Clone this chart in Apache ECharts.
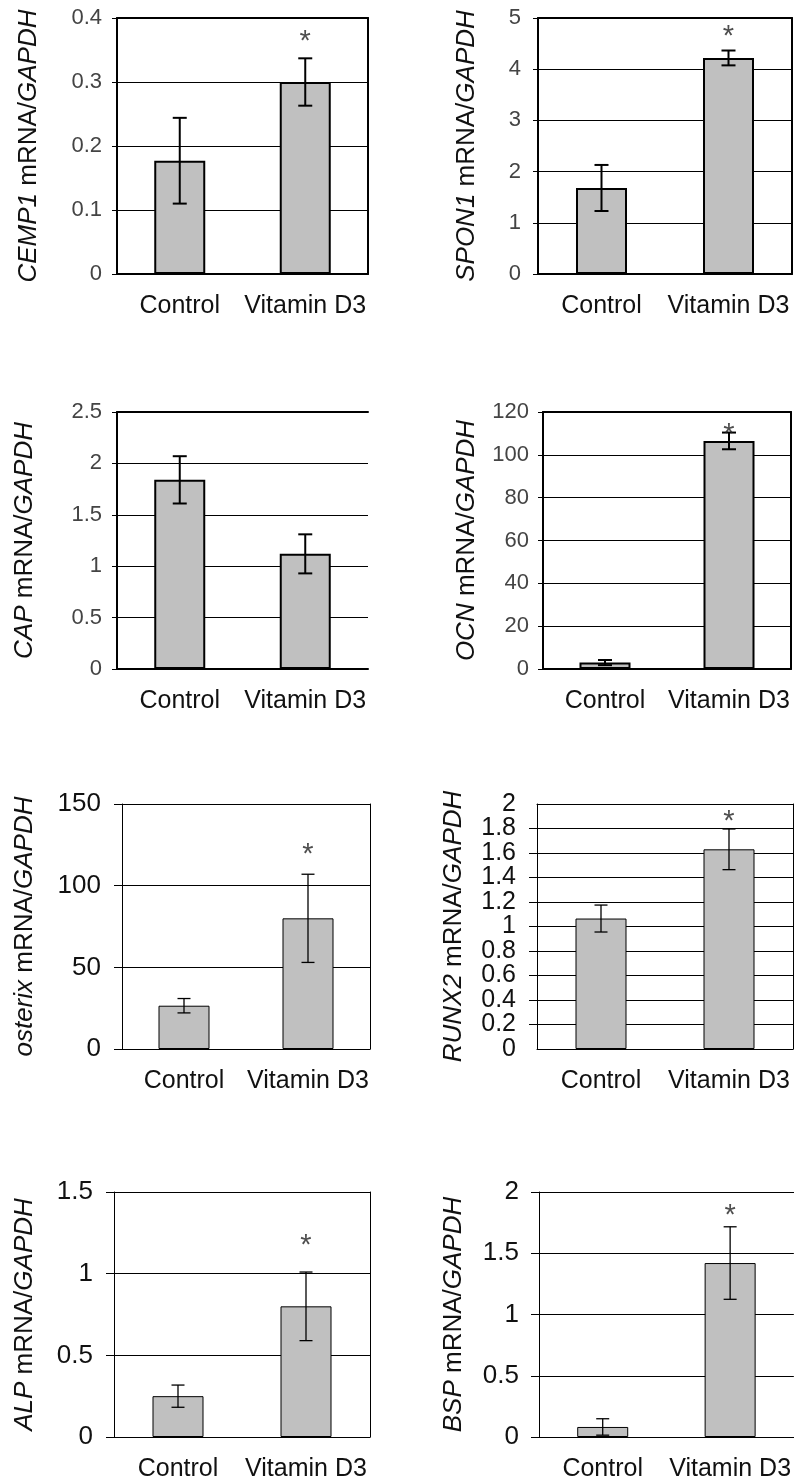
<!DOCTYPE html>
<html>
<head>
<meta charset="utf-8">
<script src="https://cdn.jsdelivr.net/npm/echarts@6/dist/echarts.min.js"></script>
<style>
  html, body { margin: 0; padding: 0; background: #fff; }
  #chart { width: 794px; height: 1482px; }
</style>
</head>
<body>
<div id="chart"></div>
<script>
// values
const categories = ['Control', 'Vitamin D3'];
const genes = ['CEMP1', 'SPON1', 'CAP', 'OCN', 'osterix', 'RUNX2', 'ALP', 'BSP'];
const controlMean = [0.177, 1.68, 1.84, 3.0, 26.5, 1.065, 0.25, 0.082];
const controlErr = [0.067, 0.45, 0.23, 1.2, 4.4, 0.11, 0.068, 0.067];
const vitD3Mean = [0.30, 4.22, 1.12, 106.5, 80, 1.63, 0.80, 1.42];
const vitD3Err = [0.037, 0.145, 0.19, 3.9, 27, 0.166, 0.21, 0.296];
const yMax = [0.4, 5, 2.5, 120, 150, 2, 1.5, 2];
const yStep = [0.1, 1, 0.5, 20, 50, 0.2, 0.5, 0.5];
// height of the significance star (null = none)
const starY = [0.373, 4.76, null, 112.5, 123, 1.91, 1.215, 1.865];

// panel boxes and styling
const layout = [
  { left: 117, top: 18, width: 251, height: 256, lw: 2, rightLine: true, nameGap: 75, tick: 22, tickColor: '#444', tickLen: 5, tickGap: 15 },
  { left: 538, top: 18, width: 254, height: 256, lw: 2, rightLine: true, nameGap: 58, tick: 22, tickColor: '#444', tickLen: 5, tickGap: 17 },
  { left: 117, top: 412, width: 251, height: 257, lw: 2, rightLine: false, nameGap: 79, tick: 22, tickColor: '#444', tickLen: 5, tickGap: 15 },
  { left: 543, top: 412, width: 248, height: 257, lw: 2, rightLine: true, nameGap: 63, tick: 22, tickColor: '#444', tickLen: 5, tickGap: 14 },
  { left: 122, top: 804, width: 248, height: 245, lw: 1, rightLine: true, nameGap: 84, tick: 26, tickColor: '#111', tickLen: 8, tickGap: 21 },
  { left: 537, top: 804, width: 256, height: 245, lw: 1, rightLine: true, nameGap: 70, tick: 25, tickColor: '#111', tickLen: 8, tickGap: 21, dense: true },
  { left: 114, top: 1192, width: 256, height: 245, lw: 1, rightLine: true, nameGap: 76, tick: 26, tickColor: '#111', tickLen: 8, tickGap: 21 },
  { left: 539, top: 1192, width: 255, height: 245, lw: 1, rightLine: false, nameGap: 72, tick: 26, tickColor: '#111', tickLen: 8, tickGap: 20 }
];

const chart = echarts.init(document.getElementById('chart'));

const grid = [], xAxis = [], yAxis = [], series = [];

genes.forEach((gene, i) => {
  const L = layout[i];
  grid.push({ left: L.left, top: L.top, width: L.width, height: L.height });

  const xi = xAxis.length;
  xAxis.push({
    type: 'category', gridIndex: i, data: categories,
    axisLine: { onZero: false, lineStyle: { color: '#000', width: L.lw } },
    axisTick: { show: false },
    axisLabel: { fontSize: 25, color: '#111', margin: 20, interval: 0 }
  });
  // top frame line
  xAxis.push({
    type: 'category', gridIndex: i, data: categories, position: 'top',
    axisLine: { onZero: false, lineStyle: { color: '#000', width: L.lw } },
    axisTick: { show: false }, axisLabel: { show: false }
  });

  const labelStyle = { fontSize: L.tick, color: L.tickColor, margin: L.tickGap };
  const yi = yAxis.length;
  yAxis.push({
    type: 'value', gridIndex: i, min: 0, max: yMax[i], interval: yStep[i],
    name: '{i|' + gene + '} mRNA/{i|GAPDH}',
    nameLocation: 'middle', nameRotate: 90, nameGap: L.nameGap,
    nameTextStyle: {
      fontSize: 26, color: '#111',
      rich: { i: { fontSize: 26, fontStyle: 'italic', color: '#111' } }
    },
    axisLine: { show: true, onZero: false, lineStyle: { color: '#000', width: L.lw } },
    axisTick: { show: true, length: L.tickLen, lineStyle: { color: '#000', width: 1 } },
    axisLabel: Object.assign({}, labelStyle, L.dense
      ? { showMinLabel: false, showMaxLabel: false }
      : { showMinLabel: true, showMaxLabel: true }),
    splitLine: { show: true, lineStyle: { color: '#000', width: 1 } }
  });
  if (L.dense) {
    // tightly packed labels: end labels drawn by an overlaid axis so none get dropped
    yAxis.push({
      type: 'value', gridIndex: i, min: 0, max: yMax[i], interval: yMax[i], position: 'left',
      axisLine: { show: false }, axisTick: { show: false }, splitLine: { show: false },
      axisLabel: Object.assign({}, labelStyle, { showMinLabel: true, showMaxLabel: true })
    });
  }
  if (L.rightLine) {
    yAxis.push({
      type: 'value', gridIndex: i, min: 0, max: yMax[i], position: 'right',
      axisLine: { show: true, onZero: false, lineStyle: { color: '#000', width: L.lw } },
      axisTick: { show: false }, axisLabel: { show: false }, splitLine: { show: false }
    });
  }

  series.push({
    type: 'bar', xAxisIndex: xi, yAxisIndex: yi,
    data: [controlMean[i], vitD3Mean[i]],
    barWidth: 51,
    itemStyle: { color: '#c0c0c0', borderColor: '#000', borderWidth: L.lw },
    z: 3
  });

  const lw = L.lw === 2 ? 2 : 1.3;
  const cap = L.lw === 2 ? 14 : 13;
  series.push({
    type: 'custom', xAxisIndex: xi, yAxisIndex: yi, z: 5,
    data: [
      [0, controlMean[i] + controlErr[i], controlMean[i] - controlErr[i]],
      [1, vitD3Mean[i] + vitD3Err[i], vitD3Mean[i] - vitD3Err[i]]
    ],
    renderItem: (params, api) => {
      const hi = api.coord([api.value(0), api.value(1)]);
      const lo = api.coord([api.value(0), api.value(2)]);
      const style = { stroke: '#000', lineWidth: lw };
      return {
        type: 'group',
        children: [
          { type: 'line', shape: { x1: hi[0], y1: hi[1], x2: lo[0], y2: lo[1] }, style },
          { type: 'line', shape: { x1: hi[0] - cap / 2, y1: hi[1], x2: hi[0] + cap / 2, y2: hi[1] }, style },
          { type: 'line', shape: { x1: lo[0] - cap / 2, y1: lo[1], x2: lo[0] + cap / 2, y2: lo[1] }, style }
        ]
      };
    }
  });

  if (starY[i] !== null) {
    series.push({
      type: 'scatter', xAxisIndex: xi, yAxisIndex: yi, z: 6,
      data: [[1, starY[i]]],
      symbolSize: 0,
      label: {
        show: true, position: 'inside', formatter: '*',
        fontSize: 29, color: '#222', offset: [0, 7]
      }
    });
  }
});

chart.setOption({
  animation: false,
  backgroundColor: '#fff',
  textStyle: { fontFamily: 'Liberation Sans, Arial, sans-serif' },
  grid, xAxis, yAxis, series
});
</script>
</body>
</html>
